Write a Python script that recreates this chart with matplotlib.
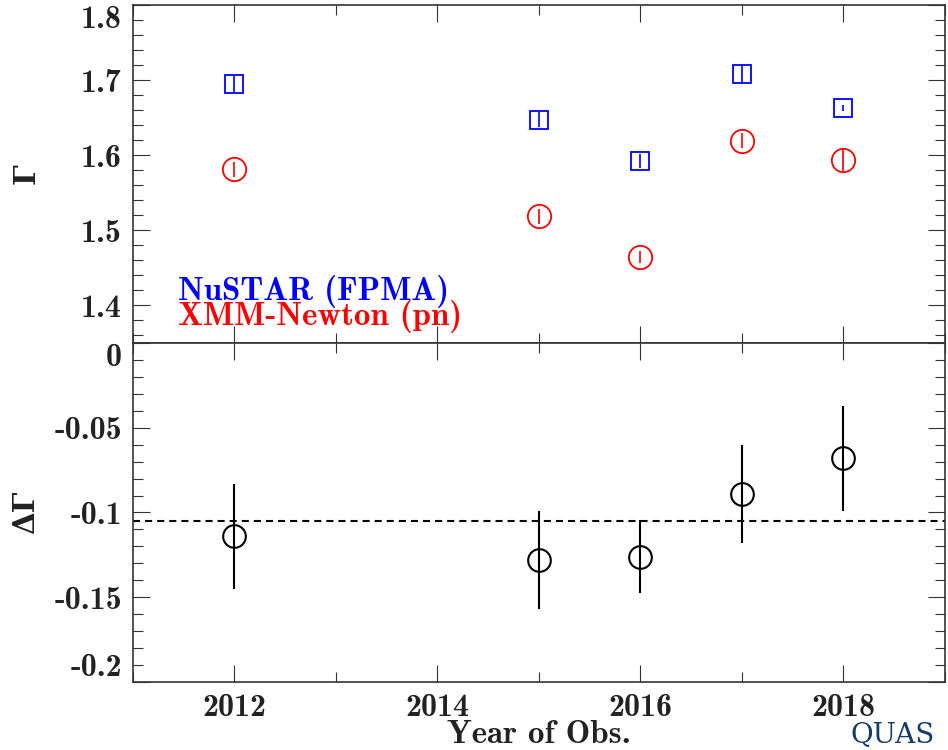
import matplotlib
matplotlib.use("Agg")
import matplotlib.pyplot as plt
import numpy as np
from matplotlib.ticker import MultipleLocator

plt.rcParams['font.family'] = ['cmb10', 'DejaVu Serif']
plt.rcParams['mathtext.fontset'] = 'cm'
plt.rcParams['axes.unicode_minus'] = False

# photon index per observation year
years = [2012, 2015, 2016, 2017, 2018]
gamma_nustar = [1.695, 1.647, 1.592, 1.708, 1.663]
gamma_nustar_err = [0.011, 0.010, 0.009, 0.011, 0.0045]
gamma_xmm = [1.581, 1.519, 1.465, 1.619, 1.594]
gamma_xmm_err = [0.0105, 0.010, 0.008, 0.010, 0.0155]

# difference XMM - NuSTAR
dgamma = [-0.114, -0.128, -0.126, -0.089, -0.068]
dgamma_err = [0.031, 0.029, 0.0215, 0.029, 0.031]
dgamma_mean = -0.105

top_ticks = [1.4, 1.5, 1.6, 1.7, 1.8]
top_labels = ["1.4", "1.5", "1.6", "1.7", "1.8"]
bot_ticks = [0, -0.05, -0.1, -0.15, -0.2]
bot_labels = ["0", "-0.05", "-0.1", "-0.15", "-0.2"]
x_ticks = [2012, 2014, 2016, 2018]

spine_col = "#333333"
txt_col = "#222222"

fig = plt.figure(figsize=(9.48, 7.5), dpi=100)
ax1 = fig.add_axes([0.1403, 0.5427, 0.8565, 0.4506])
ax2 = fig.add_axes([0.1403, 0.0907, 0.8565, 0.452], sharex=ax1)

ax1.errorbar(years, gamma_nustar, yerr=gamma_nustar_err, fmt="s", color="#0000ff",
             mfc="none", mec="#0000ff", ms=12.3, mew=1.3, elinewidth=1.2, capsize=0)
ax1.errorbar(years, gamma_xmm, yerr=gamma_xmm_err, fmt="o", color="#ff0000",
             mfc="none", mec="#ff0000", ms=16.8, mew=1.3, elinewidth=1.2, capsize=0)

ax2.axhline(dgamma_mean, color="black", lw=1.5, ls=(0, (3.4, 2.4)))
ax2.errorbar(years, dgamma, yerr=dgamma_err, fmt="o", color="black",
             mfc="none", mec="black", ms=16.3, mew=1.5, elinewidth=1.5, capsize=0)

ax1.set_xlim(2011, 2019)
ax1.set_ylim(1.35, 1.8)
ax2.set_ylim(-0.2, 0)

ax1.set_yticks(top_ticks, top_labels)
ax2.set_yticks(bot_ticks, bot_labels)
ax1.yaxis.set_minor_locator(MultipleLocator(0.02))
ax2.yaxis.set_minor_locator(MultipleLocator(0.01))
ax2.set_xticks(x_ticks, [str(y) for y in x_ticks])
ax2.xaxis.set_minor_locator(MultipleLocator(1))

for ax in (ax1, ax2):
    ax.tick_params(which="both", direction="in", top=True, right=True,
                   color=spine_col, width=0.8, labelsize=23, pad=8,
                   labelcolor=txt_col)
    ax.tick_params(which="major", length=12)
    ax.tick_params(which="minor", length=7.2)
    for sp in ax.spines.values():
        sp.set_linewidth(1.2)
        sp.set_color(spine_col)
ax1.tick_params(labelbottom=False)

# keep edge labels inside the panels
for t in ax1.yaxis.get_major_ticks():
    if abs(t.get_loc() - 1.8) < 1e-6:
        t.label1.set_va("top")
for t in ax2.yaxis.get_major_ticks():
    if abs(t.get_loc()) < 1e-6:
        t.label1.set_va("top")
    elif abs(t.get_loc() + 0.2) < 1e-6:
        t.label1.set_va("bottom")

ax1.set_ylabel("Γ", fontsize=21, family="DejaVu Serif", fontweight="bold", color=txt_col)
ax2.set_ylabel("ΔΓ", fontsize=21, family="DejaVu Serif", fontweight="bold", color=txt_col)
ax1.yaxis.set_label_coords(-0.114, 0.5)
ax2.yaxis.set_label_coords(-0.114, 0.5)

ax1.text(0.0554, 0.127, "NuSTAR (FPMA)", color="#0000ff", fontsize=23.7,
         transform=ax1.transAxes, va="baseline")
ax1.text(0.0554, 0.053, "XMM-Newton (pn)", color="#ff0000", fontsize=23.7,
         transform=ax1.transAxes, va="baseline")

fig.text(0.5686, 0.0093, "Year of Obs.", fontsize=23.7, ha="center", va="baseline",
         color=txt_col)

# watermark
fig.text(0.897, 0.001, "QUAS", fontsize=20, color="#163a6b",
         family="DejaVu Serif", va="bottom", ha="left")

fig.savefig("out.png", dpi=100)
